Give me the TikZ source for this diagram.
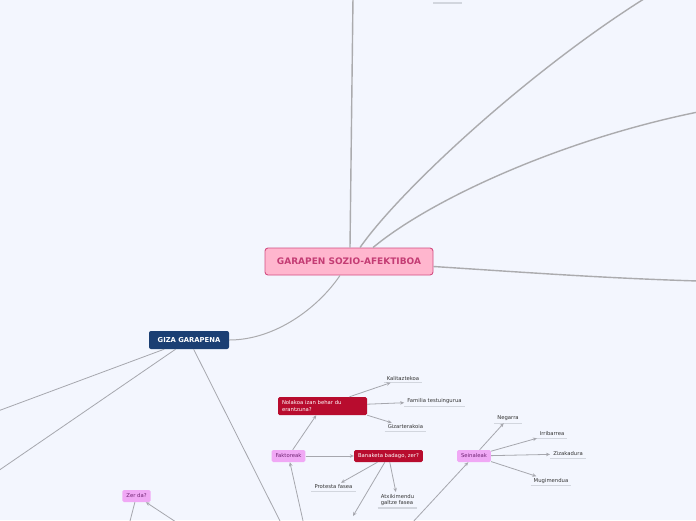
\documentclass[tikz,border=0pt]{standalone}
\usepackage{fontspec}
\setmainfont{DejaVu Sans}
\usetikzlibrary{arrows.meta}

\definecolor{bgblue}{HTML}{F3F6FE}
\definecolor{rootfill}{HTML}{FFB6CE}
\definecolor{rootdraw}{HTML}{D34E82}
\definecolor{roottext}{HTML}{C43C74}
\definecolor{navy}{HTML}{1B3F73}
\definecolor{crimson}{HTML}{B80C2E}
\definecolor{violetfill}{HTML}{F0A8F5}
\definecolor{violettext}{HTML}{6E2472}
\definecolor{branchgrey}{HTML}{ABABAE}
\definecolor{linkgrey}{HTML}{A6A7AE}
\definecolor{ulgrey}{HTML}{D2D6DE}
\definecolor{leaftext}{HTML}{333333}

\begin{document}
\begin{tikzpicture}[x=1pt, y=-1pt, >={Stealth[length=4pt,width=3.5pt]},
    branch/.style={draw=branchgrey, line width=1.4pt},
    link/.style={->, draw=linkgrey, line width=0.8pt},
    uline/.style={draw=ulgrey, line width=1.2pt},
    rootbox/.style={draw=rootdraw, line width=0.9pt, fill=rootfill, text=roottext,
        rounded corners=3pt, minimum width=168pt, minimum height=27pt,
        font=\fontsize{9}{10}\selectfont\bfseries},
    mainbox/.style={fill=navy, text=white, rounded corners=2pt,
        minimum width=80pt, minimum height=18pt, font=\fontsize{6.8}{8}\selectfont\bfseries},
    redbox/.style={fill=crimson, text=white, rounded corners=1.5pt, inner xsep=4pt,
        minimum height=12pt, font=\fontsize{5.3}{7}\selectfont},
    subbox/.style={fill=violetfill, text=violettext, rounded corners=1.5pt,
        minimum height=12pt, inner xsep=4pt, font=\fontsize{5.3}{7}\selectfont},
    leaf/.style={text=leaftext, inner xsep=3pt, inner ysep=2pt,
        font=\fontsize{5.3}{6.5}\selectfont}]

    \useasboundingbox (0,0) rectangle (696,520);
    \fill[bgblue] (0,0) rectangle (696,520);
    \clip (0,0) rectangle (696,520);

    \node[rootbox] (root) at (349,261.5) {GARAPEN SOZIO-AFEKTIBOA};
    \node[mainbox] (giza) at (189,340) {GIZA GARAPENA};

    \coordinate (up) at (353,-3);
    \coordinate (upright) at (647,-3);
    \coordinate (right) at (698,112);
    \coordinate (lowright) at (698,281);

    \draw[branch] ([xshift=1pt]root.north) -- (up);
    \draw[branch] ([xshift=11pt]root.north) .. controls (400,190) and (530,70) .. (upright);
    \draw[branch] ([xshift=24pt]root.north) .. controls (430,200) and (560,140) .. (right);
    \draw[branch] ([yshift=-5pt]root.east) .. controls (520,272) and (600,278) .. (lowright);
    \draw[branch, line width=1pt] ([xshift=-9pt]root.south) .. controls (318,308) and (275,340) .. (giza.east);

    \coordinate (gizaleft1) at (-2,411);
    \coordinate (gizaleft2) at (-2,471);
    \coordinate (gizadown) at (281,523);
    \draw[link, -] (giza) -- (gizaleft1);
    \draw[link, -] (giza) -- (gizaleft2);
    \draw[link, -] (giza) -- (gizadown);

    \node[redbox, align=left, text width=81pt, minimum height=18pt] (nol) at (322.5,406) {Nolakoa izan behar du\\erantzuna?};
    \node[subbox] (fak) at (288.5,456) {Faktoreak};
    \node[redbox] (ban) at (388.5,456) {Banaketa badago, zer?};
    \node[subbox] (sei) at (474,456) {Seinaleak};
    \node[subbox] (zer) at (136.5,496) {Zer da?};

    \node[leaf] (kal) at (403,378.5) {Kalitaztekoa};
    \node[leaf] (fam) at (434.5,401.5) {Familia testuingurua};
    \node[leaf] (gizt) at (405.5,427) {Gizarterakoia};
    \node[leaf] (prot) at (333.5,487) {Protesta fasea};
    \node[leaf, align=left] (atx) at (397.5,500) {Atxikimendu\\galtze fasea};
    \node[leaf] (neg) at (508,418.5) {Negarra};
    \node[leaf] (irr) at (552,434) {Irribarrea};
    \node[leaf] (ziz) at (568,454) {Zizakadura};
    \node[leaf] (mug) at (551,481) {Mugimendua};

    \foreach \n in {kal,fam,gizt,prot,atx,neg,irr,ziz,mug}
        \draw[uline] (\n.south west) -- (\n.south east);
    \draw[uline] (433,3) -- (462,3);

    \coordinate (fakin) at (303.5,523);
    \coordinate (banout) at (353,516);
    \coordinate (seiin) at (412,523);
    \coordinate (zerin) at (176,522);
    \coordinate (zerout) at (129.5,523);

    \draw[link] (fak) -- (nol);
    \draw[link] (nol) -- (kal);
    \draw[link] (nol) -- (fam);
    \draw[link] (nol.south east) -- (gizt);
    \draw[link] (fak) -- (ban);
    \draw[link] (fakin) -- (fak);
    \draw[link] (ban) -- (prot);
    \draw[link] (ban) -- (atx);
    \draw[link] (ban) -- (banout);
    \draw[link] (seiin) -- (sei);
    \draw[link] (sei) -- (neg);
    \draw[link] (sei) -- (irr);
    \draw[link] (sei) -- (ziz);
    \draw[link] (sei) -- (mug);
    \draw[link] (zerin) -- (zer);
    \draw[link, -] (zer) -- (zerout);
\end{tikzpicture}
\end{document}
